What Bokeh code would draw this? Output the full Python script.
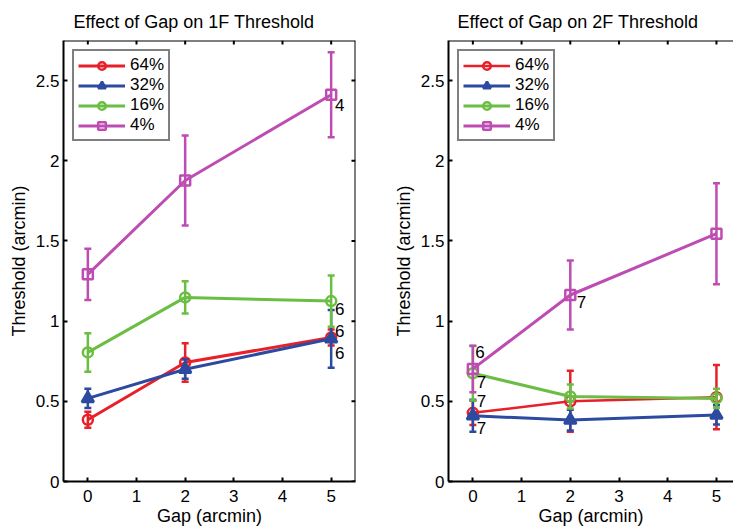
from bokeh.plotting import figure
from bokeh.models import (ColumnDataSource, LinearAxis, FixedTicker, NumeralTickFormatter,
                          Legend, LegendItem, Range1d, Span)
from bokeh.layouts import row
from bokeh.embed import file_html
from bokeh.resources import INLINE
from bokeh.core.properties import value

# ---------------- data ----------------
gap = [0, 2, 5]
series_labels = ["64%", "32%", "16%", "4%"]
series_colors = ["#E8202A", "#2C4AA0", "#6BBE44", "#BD4DB2"]
series_markers = ["circle", "triangle", "circle", "square"]

# 1F threshold (arcmin) and error half-widths
f1_64 = [0.385, 0.742, 0.898]
f1_64_err = [0.05, 0.12, 0.05]
f1_32 = [0.518, 0.700, 0.890]
f1_32_err = [0.06, 0.06, 0.18]
f1_16 = [0.805, 1.148, 1.125]
f1_16_err = [0.12, 0.10, 0.16]
f1_4 = [1.292, 1.877, 2.412]
f1_4_err = [0.16, 0.28, 0.265]

# 2F threshold (arcmin) and error half-widths
f2_64 = [0.428, 0.500, 0.526]
f2_64_err = [0.075, 0.19, 0.20]
f2_32 = [0.410, 0.383, 0.415]
f2_32_err = [0.10, 0.065, 0.06]
f2_16 = [0.675, 0.530, 0.518]
f2_16_err = [0.17, 0.075, 0.06]
f2_4 = [0.702, 1.163, 1.545]
f2_4_err = [0.145, 0.215, 0.315]

# n annotations
ann1_text = ["4", "6", "6", "6"]
ann1_x = [5.08, 5.08, 5.08, 5.08]
ann1_y = [2.35, 1.075, 0.937, 0.80]
ann2_text = ["6", "7", "7", "7", "7"]
ann2_x = [0.05, 0.08, 0.08, 0.08, 2.13]
ann2_y = [0.806, 0.62, 0.505, 0.334, 1.12]

x_ticks = [0, 1, 2, 3, 4, 5]
y_ticks = [0, 0.5, 1, 1.5, 2, 2.5]

FONT = "Liberation Sans"
Y_MAX = 2.75
X_MIN = -0.5


def style_axis(ax):
    ax.axis_line_color = "black"
    ax.axis_line_width = 2
    ax.major_tick_line_color = "black"
    ax.major_tick_line_width = 2
    ax.major_tick_in = 4
    ax.major_tick_out = 0
    ax.minor_tick_line_color = None
    ax.major_label_text_font = FONT
    ax.major_label_text_color = "black"
    ax.major_label_text_font_size = "17px"
    ax.axis_label_text_font = FONT
    ax.axis_label_text_font_size = "18px"
    ax.axis_label_text_font_style = "normal"
    ax.axis_label_text_color = "black"


def make_panel(title, data, errs, ann_text, ann_x, ann_y, width, x_end,
               border_left, border_right, title_offset, right_box, red_width):
    p = figure(width=width, height=528, output_backend="svg", toolbar_location=None,
               x_range=Range1d(X_MIN, x_end), y_range=Range1d(0, Y_MAX),
               x_axis_location=None, y_axis_location=None,
               min_border_left=border_left, min_border_right=border_right,
               min_border_top=40, min_border_bottom=45)
    p.outline_line_color = None
    p.grid.visible = False
    p.background_fill_color = "white"
    p.border_fill_color = "white"

    p.title.text = title
    p.title.text_font = FONT
    p.title.text_font_size = "18px"
    p.title.text_font_style = "normal"
    p.title.text_color = "black"
    p.title.align = "left"
    p.title.offset = title_offset
    p.title.standoff = 18

    left = LinearAxis(axis_label="Threshold (arcmin)")
    style_axis(left)
    left.ticker = FixedTicker(ticks=y_ticks)
    left.formatter = NumeralTickFormatter(format="0.[0]")
    left.major_label_standoff = 4
    left.axis_label_standoff = 4
    p.add_layout(left, "left")

    bottom = LinearAxis(axis_label="Gap (arcmin)")
    style_axis(bottom)
    bottom.ticker = FixedTicker(ticks=x_ticks)
    bottom.major_label_standoff = 8
    bottom.axis_label_standoff = 1
    p.add_layout(bottom, "below")

    # box: top edge (and right edge for the left panel) with inward ticks
    p.add_layout(Span(location=Y_MAX, dimension="width", line_color="black", line_width=2))
    tick_len_y = Y_MAX * 4 / 443.0
    p.segment(x0=x_ticks, y0=[Y_MAX] * len(x_ticks), x1=x_ticks,
              y1=[Y_MAX - tick_len_y] * len(x_ticks), line_color="black", line_width=2)
    if right_box:
        p.add_layout(Span(location=x_end, dimension="height", line_color="black", line_width=2))
        tick_len_x = (x_end - X_MIN) * 4 / 292.0
        p.segment(x0=[x_end] * len(y_ticks), y0=y_ticks, x1=[x_end - tick_len_x] * len(y_ticks),
                  y1=y_ticks, line_color="black", line_width=2)

    items = []
    for i, (lab, col, mk) in enumerate(zip(series_labels, series_colors, series_markers)):
        ys = data[i]
        es = errs[i]
        src = ColumnDataSource(dict(
            x=gap, y=ys,
            lo=[a - b for a, b in zip(ys, es)],
            hi=[a + b for a, b in zip(ys, es)],
        ))
        lw = red_width if i == 0 else 3
        p.segment(x0="x", y0="lo", x1="x", y1="hi", source=src, line_color=col, line_width=2.5)
        p.scatter(x="x", y="lo", source=src, marker="dash", size=7, line_color=col, line_width=2.5)
        p.scatter(x="x", y="hi", source=src, marker="dash", size=7, line_color=col, line_width=2.5)
        lr = p.line(x="x", y="y", source=src, line_color=col, line_width=lw)
        sr = p.scatter(x="x", y="y", source=src, marker=mk, size=10 if mk != "triangle" else 12,
                       line_color=col, line_width=2.5, fill_color=col if mk == "triangle" else None)
        items.append(LegendItem(label=lab, renderers=[lr, sr], index=1))

    legend = Legend(items=items, location="top_left", margin=9, padding=4, spacing=0,
                    glyph_width=47, glyph_height=19, label_height=19, label_standoff=5,
                    label_text_font=FONT, label_text_font_size="17px", label_text_color="black",
                    border_line_color="black", border_line_width=2,
                    background_fill_color="white", background_fill_alpha=1.0)
    p.add_layout(legend)

    tsrc = ColumnDataSource(dict(x=ann_x, y=ann_y, t=ann_text))
    p.text(x="x", y="y", text="t", source=tsrc, text_font=value(FONT), text_font_size="17px",
           text_color="black", text_align="left", text_baseline="middle")
    return p


p1 = make_panel("Effect of Gap on 1F Threshold",
                [f1_64, f1_32, f1_16, f1_4], [f1_64_err, f1_32_err, f1_16_err, f1_4_err],
                ann1_text, ann1_x, ann1_y,
                width=390, x_end=5.5, border_left=63, border_right=35,
                title_offset=10, right_box=True, red_width=3)
p2 = make_panel("Effect of Gap on 2F Threshold",
                [f2_64, f2_32, f2_16, f2_4], [f2_64_err, f2_32_err, f2_16_err, f2_4_err],
                ann2_text, ann2_x, ann2_y,
                width=343, x_end=5.35, border_left=58, border_right=0,
                title_offset=9, right_box=False, red_width=2.5)

layout = row(p1, p2)
open("out.html", "w").write(file_html(layout, INLINE))
